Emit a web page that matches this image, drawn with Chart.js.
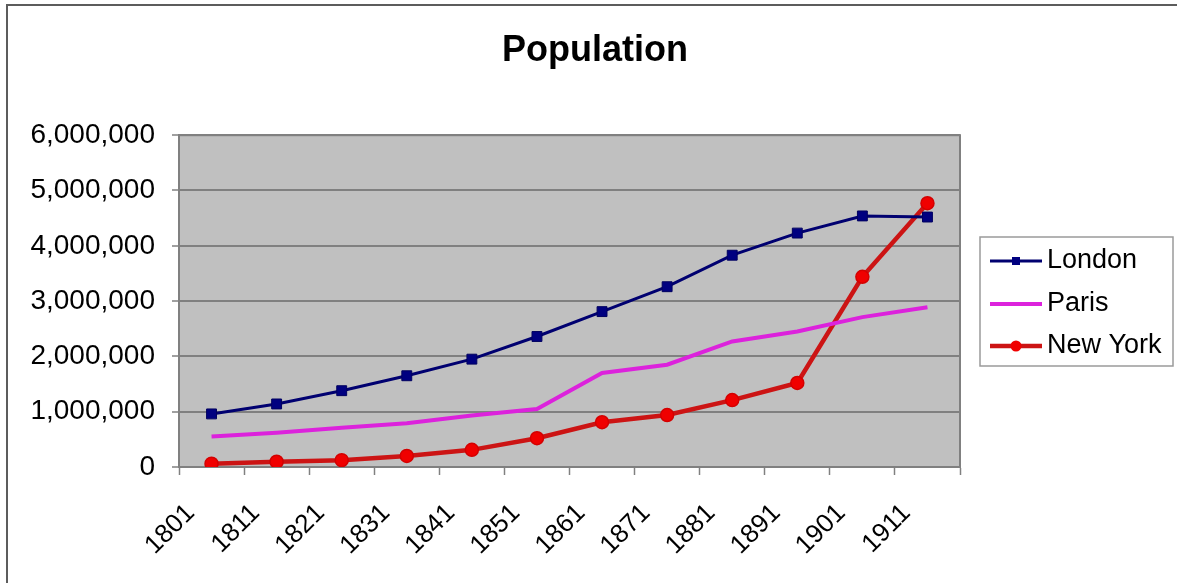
<!DOCTYPE html>
<html>
<head>
<meta charset="utf-8">
<title>Population</title>
<script src="https://cdn.jsdelivr.net/npm/chart.js"></script>
<style>
  html, body { margin: 0; padding: 0; background: #ffffff; }
  #wrap { width: 1177px; height: 583px; position: relative; }
</style>
</head>
<body>
<div id="wrap"><canvas id="pop" width="1177" height="583"></canvas></div>
<script>
// Census years (x categories)
const years = ['1801', '1811', '1821', '1831', '1841', '1851', '1861', '1871', '1881', '1891', '1901', '1911'];

// City populations per census year
const london  = [960000, 1140000, 1380000, 1650000, 1950000, 2360000, 2810000, 3260000, 3830000, 4230000, 4540000, 4520000];
const paris   = [550000, 620000, 710000, 790000, 930000, 1050000, 1700000, 1850000, 2270000, 2450000, 2710000, 2890000];
const newYork = [60000, 96000, 124000, 200000, 310000, 520000, 810000, 940000, 1210000, 1520000, 3440000, 4770000];

// Value axis range
const yMin = 0;
const yMax = 6000000;
const yStep = 1000000;

const FONT = '"Liberation Sans", Arial, Helvetica, sans-serif';
Chart.defaults.font.family = FONT;
Chart.defaults.color = '#000000';

// Frame, grey plot background and plot outline
const framePlugin = {
  id: 'frame',
  beforeDraw(chart) {
    const { ctx, chartArea: a } = chart;
    ctx.save();
    ctx.fillStyle = '#ffffff';
    ctx.fillRect(0, 0, chart.width, chart.height);
    ctx.strokeStyle = '#5c5c5c';
    ctx.lineWidth = 2;
    ctx.strokeRect(7, 5, chart.width + 20, chart.height + 20);
    ctx.fillStyle = '#c0c0c0';
    ctx.fillRect(a.left, a.top, a.right - a.left, a.bottom - a.top);
    ctx.restore();
  },
  beforeDatasetsDraw(chart) {
    const { ctx, chartArea: a } = chart;
    ctx.save();
    ctx.strokeStyle = '#808080';
    ctx.lineWidth = 2;
    ctx.strokeRect(a.left, a.top, a.right - a.left, a.bottom - a.top);
    ctx.restore();
  }
};

// Boxed legend with line-and-marker samples
const boxLegend = {
  id: 'boxLegend',
  afterDraw(chart) {
    const { ctx } = chart;
    const box = { x: 980, y: 237, w: 193, h: 129 };
    ctx.save();
    ctx.fillStyle = '#ffffff';
    ctx.fillRect(box.x, box.y, box.w, box.h);
    ctx.strokeStyle = '#9a9a9a';
    ctx.lineWidth = 1.5;
    ctx.strokeRect(box.x, box.y, box.w, box.h);
    const rowY = [261, 304, 346];
    chart.data.datasets.forEach((ds, i) => {
      const y = rowY[i];
      ctx.strokeStyle = ds.borderColor;
      ctx.lineWidth = ds.borderWidth;
      ctx.beginPath();
      ctx.moveTo(990, y);
      ctx.lineTo(1042, y);
      ctx.stroke();
      const cx = 1016;
      if (ds.pointStyle === 'rect' && ds.pointRadius > 0) {
        ctx.fillStyle = ds.pointBackgroundColor;
        ctx.fillRect(cx - 4, y - 4, 8, 8);
      } else if (ds.pointStyle === 'circle' && ds.pointRadius > 0) {
        ctx.fillStyle = ds.pointBackgroundColor;
        ctx.beginPath();
        ctx.arc(cx, y, 5.5, 0, Math.PI * 2);
        ctx.fill();
      }
      ctx.fillStyle = '#000000';
      ctx.font = '27px ' + FONT;
      ctx.textAlign = 'left';
      ctx.textBaseline = 'middle';
      ctx.fillText(ds.label, 1047, y);
    });
    ctx.restore();
  }
};

new Chart(document.getElementById('pop'), {
  type: 'line',
  data: {
    labels: years,
    datasets: [
      {
        label: 'London',
        data: london,
        borderColor: '#000070',
        borderWidth: 3,
        pointStyle: 'rect',
        pointRadius: 7,
        pointBackgroundColor: '#000080',
        pointBorderColor: '#000060',
        pointBorderWidth: 1,
        tension: 0
      },
      {
        label: 'Paris',
        data: paris,
        borderColor: '#dc22dc',
        borderWidth: 4,
        pointStyle: 'circle',
        pointRadius: 0,
        pointBackgroundColor: '#dc22dc',
        tension: 0
      },
      {
        label: 'New York',
        data: newYork,
        borderColor: '#cc1414',
        borderWidth: 4.5,
        pointStyle: 'circle',
        pointRadius: 6.5,
        pointBackgroundColor: '#f00000',
        pointBorderColor: '#d40000',
        pointBorderWidth: 1.5,
        tension: 0
      }
    ]
  },
  options: {
    responsive: false,
    animation: false,
    devicePixelRatio: 1,
    layout: { padding: { left: 13, right: 0, top: 0, bottom: 0 } },
    plugins: {
      legend: { display: false },
      tooltip: { enabled: false },
      title: {
        display: true,
        text: 'Population',
        color: '#000000',
        font: { size: 36, weight: 'bold', family: FONT, lineHeight: 1.2 },
        padding: { top: 29, bottom: 63 }
      }
    },
    scales: {
      x: {
        type: 'category',
        offset: true,
        grid: {
          offset: true,
          drawOnChartArea: false,
          drawTicks: true,
          tickLength: 8,
          tickColor: '#808080',
          tickWidth: 1.5
        },
        border: { display: true, color: '#808080', width: 2 },
        ticks: {
          autoSkip: false,
          minRotation: 45,
          maxRotation: 45,
          padding: 23,
          labelOffset: -21,
          color: '#000000',
          font: { size: 26, family: FONT }
        },
        afterFit(scale) { scale.height = 116; }
      },
      y: {
        type: 'linear',
        position: 'left',
        min: yMin,
        max: yMax,
        grid: {
          color: '#808080',
          lineWidth: 2,
          drawTicks: true,
          tickLength: 7,
          tickColor: '#808080',
          tickWidth: 1.5
        },
        border: { display: true, color: '#808080', width: 2 },
        ticks: {
          stepSize: yStep,
          padding: 17,
          color: '#000000',
          font: { size: 28, family: FONT },
          callback: (v) => Number(v).toLocaleString('en-US')
        },
        afterFit(scale) { scale.width = 166; }
      },
      legendSpace: {
        type: 'linear',
        position: 'right',
        display: true,
        grid: { display: false, drawTicks: false },
        border: { display: false },
        ticks: { display: false },
        afterFit(scale) { scale.width = 217; }
      }
    }
  },
  plugins: [framePlugin, boxLegend]
});
</script>
</body>
</html>
